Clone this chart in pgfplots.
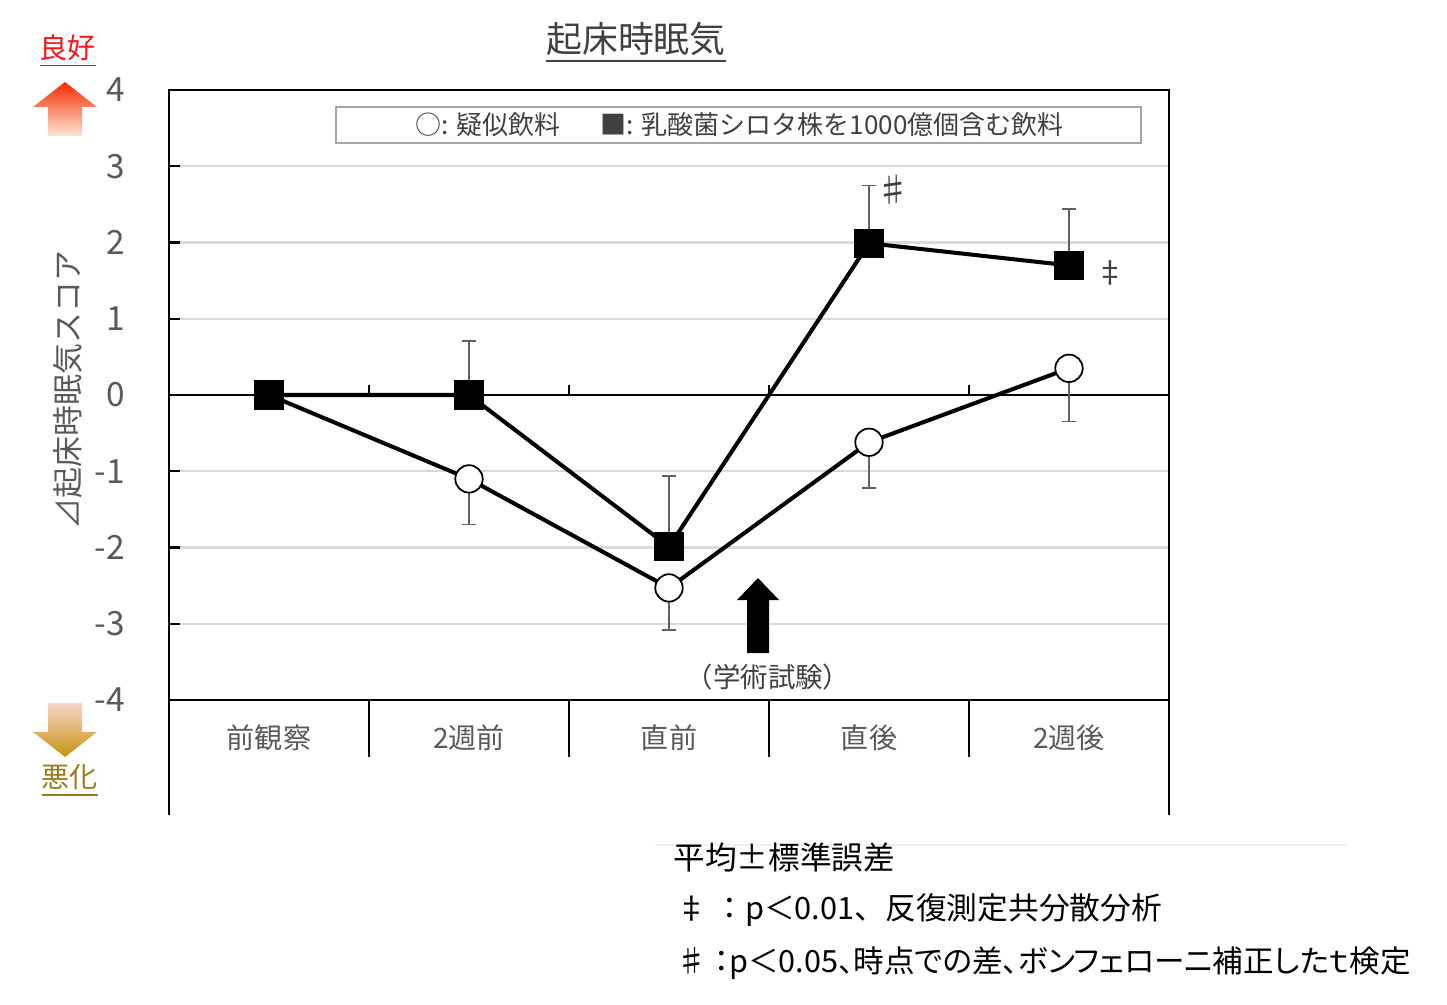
\documentclass[border=0pt]{standalone}
\usepackage{fontspec}
\setmainfont{Noto Sans CJK JP}
\newfontfamily\palt[RawFeature=+palt]{Noto Sans CJK JP}
\usepackage{pgfplots}
\pgfplotsset{compat=1.18}
\definecolor{tgray}{HTML}{595959}
\definecolor{titlegray}{HTML}{404040}
\definecolor{gridgray}{HTML}{D9D9D9}
\definecolor{errgray}{HTML}{606060}
\definecolor{leggray}{HTML}{A6A6A6}
\definecolor{uptop}{HTML}{F52A00}
\definecolor{upbot}{HTML}{FBE6D6}
\definecolor{dntop}{HTML}{F9D6C8}
\definecolor{dnbot}{HTML}{C8920E}
\definecolor{goodred}{HTML}{FF1010}
\definecolor{badgold}{HTML}{9C7A1C}
\begin{document}
\begin{tikzpicture}[x=1cm,y=1cm]
\path[use as bounding box] (0,0) rectangle (14.47,10.04);
\begin{axis}[
  scale only axis, width=10cm, height=6.1cm,
  at={(1.69cm,3.04cm)}, anchor=south west,
  xmin=-0.5, xmax=4.5, ymin=-4, ymax=4,
  xtick={0,1,2,3,4},
  xticklabels={前観察,2週前,直前,直後,2週後},
  x tick style={draw=none},
  xticklabel style={font=\fontsize{8}{9}\selectfont, text=tgray, yshift=-0.12cm},
  ytick={-4,-3,-2,-1,0,1,2,3,4},
  yticklabels={-4,-3,-2,-1,0,1,2,3,4},
  yticklabel style={font=\fontsize{9.5}{10}\selectfont, text=tgray, xshift=-0.32cm},
  y tick style={black, line width=0.6pt},
  major tick length=0.11cm, tick align=inside,
  ytick pos=left,
  ymajorgrids, grid style={draw=gridgray, line width=0.6pt},
  axis line style={black, line width=0.7pt},
  clip=false,
]
\draw[black, line width=0.7pt] (axis cs:-0.5,0) -- (axis cs:4.5,0);
\draw[black, line width=0.6pt] (axis cs:0.5,0) -- (axis cs:0.5,0.13);
\draw[black, line width=0.6pt] (axis cs:1.5,0) -- (axis cs:1.5,0.13);
\draw[black, line width=0.6pt] (axis cs:2.5,0) -- (axis cs:2.5,0.13);
\draw[black, line width=0.6pt] (axis cs:3.5,0) -- (axis cs:3.5,0.13);
% placebo
\addplot[black, line width=1.15pt,
  mark=*, mark size=3.9pt, mark options={fill=white, draw=black, line width=0.5pt},
  error bars/.cd, y dir=minus, y explicit,
  error bar style={draw=errgray, line width=0.45pt},
  error mark options={rotate=90, mark size=0.07cm, draw=errgray, line width=0.45pt}]
coordinates {
  (0,0) +- (0,0)
  (1,-1.10) +- (0,0.60)
  (2,-2.53) +- (0,0.55)
  (3,-0.62) +- (0,0.60)
  (4,0.35) +- (0,0.70)
};
% L. casei Shirota
\addplot[black, line width=1.15pt,
  mark=square*, mark size=3.9pt, mark options={fill=black, draw=black, line width=0.5pt},
  error bars/.cd, y dir=plus, y explicit,
  error bar style={draw=errgray, line width=0.45pt},
  error mark options={rotate=90, mark size=0.07cm, draw=errgray, line width=0.45pt}]
coordinates {
  (0,0) +- (0,0)
  (1,0) +- (0,0.71)
  (2,-1.99) +- (0,0.93)
  (3,1.99) +- (0,0.76)
  (4,1.70) +- (0,0.74)
};
\end{axis}
% lower category frame
\draw[black, line width=0.7pt] (1.69,3.04) -- (1.69,1.89);
\draw[black, line width=0.7pt] (11.69,3.04) -- (11.69,1.89);
\foreach \xx in {3.69,5.69,7.69,9.69} {
  \draw[black, line width=0.7pt] (\xx,3.04) -- (\xx,2.47);
}
% title
\node[text=titlegray, font=\fontsize{10.2}{12}\selectfont] at (6.36,9.61) {\underline{起床時眠気}};
% y label
\node[text=tgray, rotate=90, font=\fontsize{8.8}{10}\selectfont] at (0.68,6.14) {⊿起床時眠気スコア};
% legend box
\draw[leggray, line width=0.8pt] (3.36,8.97) rectangle (11.41,8.61);
\node[anchor=west, inner sep=0, text=titlegray, font=\fontsize{7.4}{8}\selectfont] at (4.15,8.79) {○: 疑似飲料};
\node[anchor=west, inner sep=0, text=titlegray, font=\fontsize{7.4}{8}\selectfont] at (6.00,8.79) {■: 乳酸菌シロタ株を1000億個含む飲料};
% significance marks
\node[text=titlegray, font=\fontsize{9.5}{10}\selectfont] at (8.93,8.14) {♯};
\node[text=titlegray, font=\fontsize{8.5}{10}\selectfont] at (11.10,7.31) {‡};
% exam arrow
\fill[black] (7.47,3.51) -- (7.69,3.51) -- (7.69,4.04) -- (7.79,4.04) -- (7.58,4.26) -- (7.37,4.04) -- (7.47,4.04) -- cycle;
\node[text=titlegray, font=\fontsize{7.8}{9}\selectfont] at (7.68,3.27) {（学術試験）};
% good / bad arrows
\shade[top color=uptop, bottom color=upbot] (0.48,8.68) -- (0.82,8.68) -- (0.82,8.97) -- (0.97,8.97) -- (0.65,9.22) -- (0.33,8.97) -- (0.48,8.97) -- cycle;
\shade[top color=dntop, bottom color=dnbot] (0.48,3.01) -- (0.82,3.01) -- (0.82,2.72) -- (0.97,2.72) -- (0.65,2.47) -- (0.33,2.72) -- (0.48,2.72) -- cycle;
\node[text=goodred, font=\fontsize{8}{9}\selectfont] at (0.68,9.53) {\underline{良好}};
\node[text=badgold, font=\fontsize{8}{9}\selectfont] at (0.70,2.23) {\underline{悪化}};
% footnotes
\draw[gray!12, line width=0.5pt] (6.55,1.59) -- (13.47,1.59);
\node[anchor=west, inner sep=0, font=\fontsize{9}{10}\selectfont] at (6.73,1.47) {平均±標準誤差};
\node[anchor=west, inner sep=0, font=\fontsize{8.75}{10}\selectfont] at (6.76,0.94) {‡ ：p＜0.01、反復測定共分散分析};
\node[anchor=west, inner sep=0, font=\palt\fontsize{8.7}{10}\selectfont] at (6.76,0.41) {♯ ：p＜0.05、時点での差、ボンフェローニ補正したｔ検定};
\end{tikzpicture}
\end{document}
